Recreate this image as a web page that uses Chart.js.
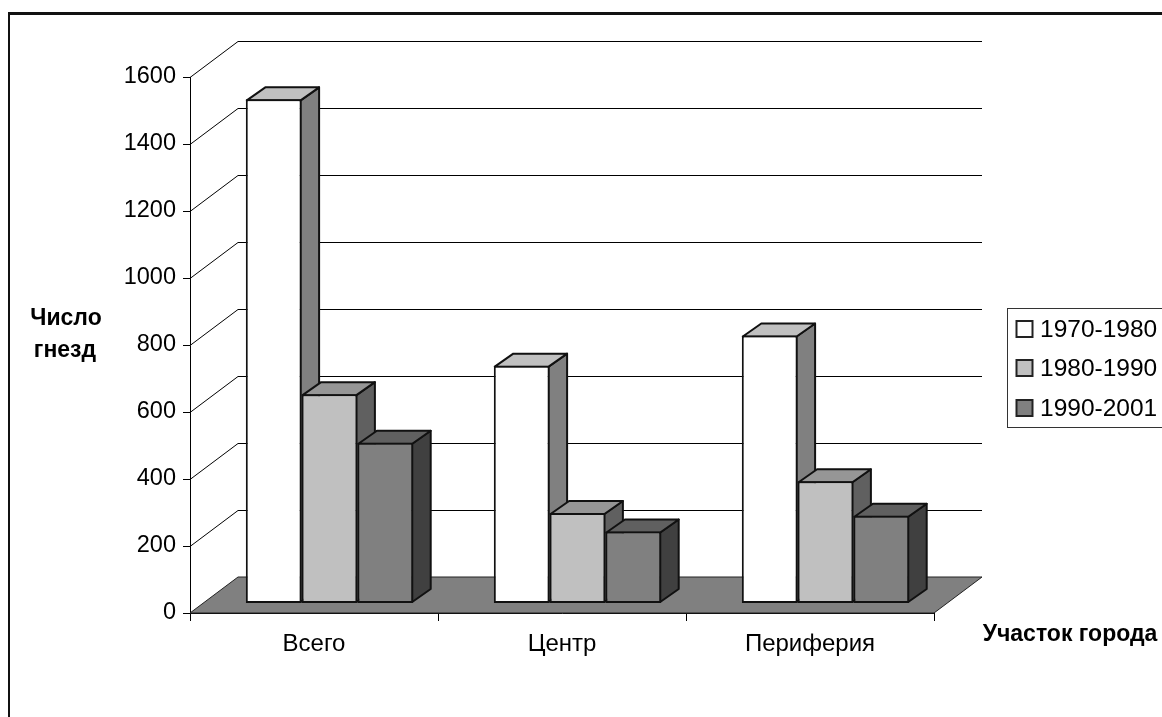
<!DOCTYPE html>
<html>
<head>
<meta charset="utf-8">
<script src="https://cdn.jsdelivr.net/npm/chart.js@4/dist/chart.umd.min.js"></script>
<style>
    html, body { margin: 0; padding: 0; background: #fff; overflow: hidden; }
    #wrap { position: relative; width: 1162px; height: 717px; }
    #frame { position: absolute; left: 8px; top: 12px; width: 1154px; height: 705px; border-top: 3px solid #111; border-left: 2px solid #111; box-sizing: border-box; }
    canvas { position: absolute; left: 0; top: 0; }
</style>
</head>
<body>
<div id="wrap">
    <div id="frame"></div>
    <canvas id="barChart" width="1162" height="717"></canvas>
</div>
<script>
const categories = ['Всего', 'Центр', 'Периферия'];
const seriesNames = ['1970-1980', '1980-1990', '1990-2001'];
const values1970 = [1505, 710, 800];
const values1980 = [625, 270, 365];
const values1990 = [480, 215, 262];
const yTickStep = 200;
const yMax = 1600;

const frontColors = ['#ffffff', '#c0c0c0', '#808080'];
const topColors = ['#c0c0c0', '#969696', '#606060'];
const sideColors = ['#808080', '#606060', '#404040'];

const fontName = '"Liberation Sans", Arial, sans-serif';
const wallDepth = { x: 48, y: -36 };
const barShift = { x: 15.5, y: -9.5 };
const barDepth = { x: 18.5, y: -13 };

function poly(ctx, points, fill, stroke, width) {
    ctx.beginPath();
    points.forEach((p, i) => i ? ctx.lineTo(p[0], p[1]) : ctx.moveTo(p[0], p[1]));
    ctx.closePath();
    if (fill) {
        ctx.fillStyle = fill;
        ctx.fill();
    }
    if (stroke) {
        ctx.strokeStyle = stroke;
        ctx.lineWidth = width;
        ctx.lineJoin = 'round';
        ctx.stroke();
    }
}

// walls, floor and the top/side faces of the bars, all taken from the scales
const box3d = {
    id: 'box3d',
    beforeDatasetsDraw(chart) {
        const ctx = chart.ctx;
        const area = chart.chartArea;
        const y = chart.scales.y;
        ctx.save();

        ctx.strokeStyle = '#000';
        ctx.lineWidth = 1;
        y.ticks.forEach(tick => {
            if (tick.value === 0) return;
            const py = Math.round(y.getPixelForValue(tick.value)) + 0.5;
            ctx.beginPath();
            ctx.moveTo(area.left, py);
            ctx.lineTo(area.left + wallDepth.x, py + wallDepth.y);
            ctx.lineTo(area.right + wallDepth.x, py + wallDepth.y);
            ctx.stroke();
        });

        const b = area.bottom;
        poly(ctx, [[area.left, b], [area.right, b], [area.right + wallDepth.x, b + wallDepth.y], [area.left + wallDepth.x, b + wallDepth.y]], '#808080', '#222', 1);

        chart.data.datasets.forEach((ds, d) => {
            chart.getDatasetMeta(d).data.forEach(bar => {
                const l = bar.x - bar.width / 2 + barShift.x + 1;
                const r = bar.x + bar.width / 2 + barShift.x - 1;
                const t = bar.y + barShift.y + 1;
                const bot = bar.base + barShift.y - 1;
                poly(ctx, [[r, t], [r + barDepth.x, t + barDepth.y], [r + barDepth.x, bot + barDepth.y], [r, bot]], sideColors[d], '#111', 2);
                poly(ctx, [[l, t], [l + barDepth.x, t + barDepth.y], [r + barDepth.x, t + barDepth.y], [r, t]], topColors[d], '#111', 2);
            });
        });
        ctx.restore();
    },
    beforeDatasetDraw(chart) {
        chart.ctx.save();
        chart.ctx.translate(barShift.x, barShift.y);
    },
    afterDatasetDraw(chart) {
        chart.ctx.restore();
    },
    afterDraw(chart) {
        const ctx = chart.ctx;
        ctx.save();

        // axis titles
        ctx.fillStyle = '#000';
        ctx.font = 'bold 23px ' + fontName;
        ctx.textAlign = 'center';
        ctx.textBaseline = 'middle';
        ctx.fillText('Число', 66, 319);
        ctx.fillText('гнезд', 65, 351);
        ctx.fillText('Участок города', 1070, 635);

        // legend
        ctx.strokeStyle = '#333';
        ctx.lineWidth = 1;
        ctx.strokeRect(1007.5, 308.5, 170, 119);
        const rows = [329, 368, 408];
        chart.data.datasets.forEach((ds, d) => {
            ctx.fillStyle = frontColors[d];
            ctx.fillRect(1016.5, rows[d] - 8, 16, 16);
            ctx.strokeStyle = '#222';
            ctx.lineWidth = 2;
            ctx.strokeRect(1016.5, rows[d] - 8, 16, 16);
            ctx.fillStyle = '#000';
            ctx.font = '24.5px ' + fontName;
            ctx.textAlign = 'left';
            ctx.fillText(ds.label, 1040, rows[d] + 1);
        });
        ctx.restore();
    }
};

const ctx = document.getElementById('barChart').getContext('2d');
new Chart(ctx, {
    type: 'bar',
    data: {
        labels: categories,
        datasets: [values1970, values1980, values1990].map((vals, d) => ({
            label: seriesNames[d],
            data: vals,
            backgroundColor: frontColors[d],
            borderColor: '#111',
            borderWidth: 2,
            borderSkipped: false,
            barPercentage: 1,
            categoryPercentage: 0.675
        }))
    },
    options: {
        responsive: false,
        animation: false,
        layout: { padding: { left: 0, right: 228, top: 77, bottom: 0 } },
        plugins: {
            legend: { display: false },
            title: { display: false },
            tooltip: { enabled: false }
        },
        scales: {
            x: {
                afterFit: scale => { scale.height = 104; },
                grid: { drawOnChartArea: false, drawTicks: true, tickLength: 8, color: '#000', lineWidth: 1 },
                border: { color: '#000', width: 1 },
                ticks: { color: '#000', padding: 9, maxRotation: 0, font: { family: fontName, size: 24 } }
            },
            y: {
                min: 0,
                max: yMax,
                afterFit: scale => { scale.width = 190; },
                grid: { drawOnChartArea: false, drawTicks: true, tickLength: 7, color: '#000', lineWidth: 1 },
                border: { color: '#000', width: 1 },
                ticks: { stepSize: yTickStep, color: '#000', padding: 7, font: { family: fontName, size: 23.5 }, callback: v => String(v) }
            }
        }
    },
    plugins: [box3d]
});
</script>
</body>
</html>
